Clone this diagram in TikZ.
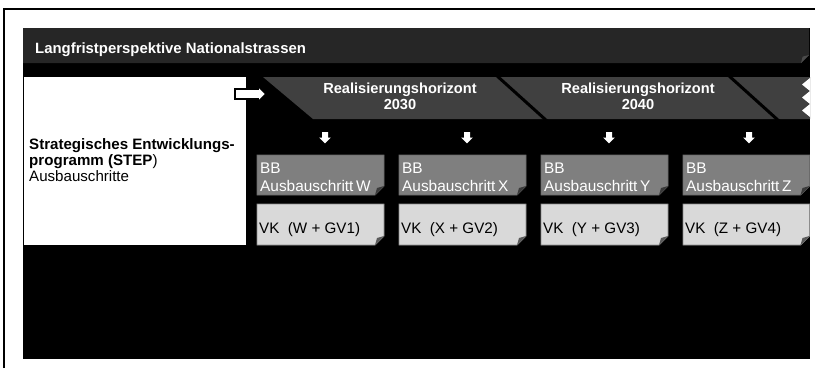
\documentclass[tikz,border=0pt]{standalone}
\usepackage{fontspec}
\setmainfont{Liberation Sans}
\definecolor{titlebar}{HTML}{262626}
\definecolor{band}{HTML}{404040}
\definecolor{bbfill}{HTML}{7F7F7F}
\definecolor{bbline}{HTML}{6A6A6A}
\definecolor{bbfold}{HTML}{3A3A3A}
\definecolor{vkfill}{HTML}{D9D9D9}
\definecolor{vkline}{HTML}{8C8C8C}
\definecolor{vkfold}{HTML}{5A5A5A}
\definecolor{tfold}{HTML}{4A4A4A}
\newcommand{\myfs}[2]{\fontsize{#1}{#2}\selectfont}
\begin{document}
\begin{tikzpicture}[x=1pt,y=-1pt,line join=miter,
  titletext/.style={text=white,font=\myfs{14.9}{17}\bfseries,inner sep=0},
  lefttext/.style={text=black,font=\myfs{15.1}{17},inner sep=0,anchor=base west},
  horiztext/.style={text=white,font=\myfs{14.6}{17}\bfseries,inner sep=0,anchor=base},
  bbtext/.style={text=white,font=\myfs{15.4}{18},inner sep=0,anchor=base west},
  vktext/.style={text=black,font=\myfs{15.2}{18},inner sep=0,anchor=base west},
  whitearrow/.style={fill=white}]
\useasboundingbox (0,0) rectangle (815,368);
% outer frame
\draw[line width=2pt] (4,368) -- (4,9) -- (815,9);
% black panel
\fill[black] (23,28) rectangle (810,359);
% title bar with folded corner
\fill[titlebar] (23,28) -- (809,28) -- (809,55) -- (801,63) -- (23,63) -- cycle;
\fill[tfold] (801,63) -- (809,55) -- (802.6,56.6) -- cycle;
\node[titletext,anchor=base west] (title) at (35,53) {Langfristperspektive Nationalstrassen};
% white box
\node[fill=white,inner sep=0,minimum width=222,minimum height=168,anchor=north west] (stepbox) at (24,77) {};
\node[lefttext] (step1) at (29,149) {\bfseries Strategisches Entwicklungs-};
\node[lefttext] (step2) at (29,165) {\bfseries programm (STEP\mdseries)};
\node[lefttext] (step3) at (29,181) {Ausbauschritte};
% horizon band
\fill[band] (263,77) -- (810,77) -- (810,119) -- (313,119) -- cycle;
\draw[black,line width=3pt] (496,75) -- (547,121);
\draw[black,line width=3pt] (728,75) -- (779,121);
\foreach \yy in {78,91,104}{
  \fill[white] (810,\yy) -- (802,{\yy+6.5}) -- (810,{\yy+13}) -- cycle;
}
\node[horiztext] (h1a) at (400,93) {Realisierungshorizont};
\node[horiztext] (h1b) at (400,109) {2030};
\node[horiztext] (h2a) at (638,93) {Realisierungshorizont};
\node[horiztext] (h2b) at (638,109) {2040};
% arrow from white box to band
\coordinate (ra) at (235,94);
\draw[whitearrow,draw=black,line width=1.6pt] (ra) ++(0,-5) -- ++(23,0) -- ++(0,-3) -- ++(8,8) -- ++(-8,8) -- ++(0,-3) -- ++(-23,0) -- cycle;
% boxes
\foreach \i/\L/\n/\ax in {0/W/1/325,1/X/2/467,2/Y/3/609,3/Z/4/749}{
  \pgfmathsetmacro{\xa}{257+142*\i}
  \pgfmathsetmacro{\xb}{min(\xa+127,809.5)}
  % down arrow
  \coordinate (da\L) at (\ax,132);
  \fill[white] (da\L) ++(-3,0) -- ++(6,0) -- ++(0,5.5) -- ++(2.8,0) -- ++(-5.8,5.8) -- ++(-5.8,-5.8) -- ++(2.8,0) -- cycle;
  % BB box
  \filldraw[fill=bbfill,draw=bbline,line width=0.8pt] (\xa,155) -- (\xb,155) -- (\xb,186) -- ({\xb-9},195) -- (\xa,195) -- cycle;
  \fill[bbfold] ({\xb-9},195) -- (\xb,186) -- ({\xb-7},188) -- cycle;
  \node[bbtext] (bb\L a) at ({\xa+3},173) {BB};
  \node[bbtext] (bb\L b) at ({\xa+3},191) {Ausbauschritt\,\L};
  % VK box
  \filldraw[fill=vkfill,draw=vkline,line width=0.8pt] (\xa,204) -- (\xb,204) -- (\xb,236) -- ({\xb-9},245) -- (\xa,245) -- cycle;
  \fill[vkfold] ({\xb-9},245) -- (\xb,236) -- ({\xb-7},238) -- cycle;
  \node[vktext] (vk\L) at ({\xa+2},233) {VK~~(\L{} + GV\n)};
}
\end{tikzpicture}
\end{document}
